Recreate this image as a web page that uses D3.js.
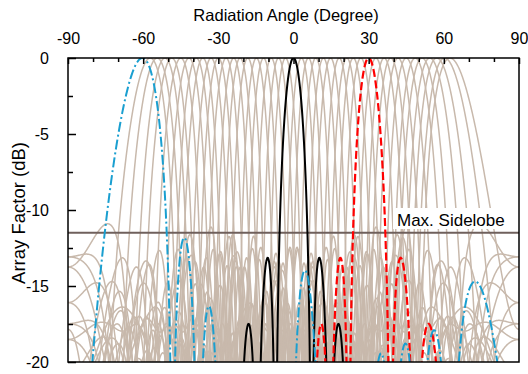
<!DOCTYPE html>
<html><head><meta charset="utf-8">
<script src="https://cdn.jsdelivr.net/npm/d3@7"></script>
<style>body{margin:0;background:#fff}svg{display:block}text{font-family:"Liberation Sans",Arial,sans-serif;fill:#000}</style>
</head><body><div id="c"></div>
<script>
// ---- data ----
const steerAngles = [-60,-57,-54,-51,-48,-45,-42,-39,-36,-33,-30,-27,-24,-21,-18,-15,-12,-9,-6,-3,0,3,6,9,12,15,18,21,24,27,30,33,36,39,42,45,48,51,54,57,60,63];
const highlighted = [{angle:0,kind:"black"},{angle:30,kind:"red"},{angle:-60,kind:"blue"}];
const elements = [16];          // number of array elements
const spacing = [0.5];          // element spacing in wavelengths
const phaseBits = [3];          // phase shifter resolution
const maxSidelobe = [-11.5];    // dB
const xTicks = [-90,-60,-30,0,30,60,90];
const yTicks = [0,-5,-10,-15,-20];

const W=528,H=374, L=68,R=519,T=58,B=362;
const svg=d3.select("#c").append("svg").attr("width",W).attr("height",H);
const x=d3.scaleLinear().domain([-90,90]).range([L,R]);
const y=d3.scaleLinear().domain([-20,0]).range([B,T]);

const N=elements[0], d=spacing[0], bits=phaseBits[0];
const step=2*Math.PI/Math.pow(2,bits);
const thetas=d3.range(-90,90.0001,0.2);
function pattern(t0){
  const beta=-2*Math.PI*d*Math.sin(t0*Math.PI/180);
  const ph=d3.range(N).map(n=>step*Math.round(n*beta/step));
  const vals=thetas.map(t=>{
    const k=2*Math.PI*d*Math.sin(t*Math.PI/180);
    let re=0,im=0;
    for(let n=0;n<N;n++){const a=n*k+ph[n];re+=Math.cos(a);im+=Math.sin(a);}
    return re*re+im*im;
  });
  const mx=d3.max(vals);
  return thetas.map((t,i)=>[t,Math.max(-40,10*Math.log10(vals[i]/mx+1e-12))]);
}
const line=d3.line().x(p=>x(p[0])).y(p=>y(p[1]));
svg.append("defs").append("clipPath").attr("id","clip").append("rect").attr("x",L).attr("y",T).attr("width",R-L).attr("height",B-T);
const g=svg.append("g").attr("clip-path","url(#clip)");
const hiSet=new Set(highlighted.map(h=>h.angle));
steerAngles.filter(a=>!hiSet.has(a)).forEach(a=>{
  g.append("path").attr("d",line(pattern(a))).attr("fill","none").attr("stroke","#c8b9ac").attr("stroke-width",1.5);
});
g.append("line").attr("x1",L).attr("x2",R).attr("y1",y(maxSidelobe[0])).attr("y2",y(maxSidelobe[0])).attr("stroke","#6f605c").attr("stroke-width",2);
const styles={black:{c:"#000",w:2,da:null},red:{c:"#ff0000",w:2.2,da:"8,3.5"},blue:{c:"#1a9fd0",w:2,da:"10,3,2,3"}};
highlighted.forEach(h=>{
  const s=styles[h.kind];
  g.append("path").attr("d",line(pattern(h.angle))).attr("fill","none").attr("stroke",s.c).attr("stroke-width",s.w).attr("stroke-dasharray",s.da);
});
svg.append("rect").attr("x",393).attr("y",208).attr("width",118).attr("height",21).attr("fill","#fff");
svg.append("text").attr("x",397).attr("y",226).attr("font-size",17).text("Max. Sidelobe");
svg.append("rect").attr("x",L).attr("y",T).attr("width",R-L).attr("height",B-T).attr("fill","none").attr("stroke","#000").attr("stroke-width",1.5);
const fmt=v=>String(v);
svg.append("g").attr("transform",`translate(0,${T})`)
  .call(d3.axisTop(x).tickValues([-80,-70,-50,-40,-20,-10,10,20,40,50,70,80]).tickSize(-4).tickFormat(""))
  .call(s=>s.select(".domain").remove());
svg.append("g").attr("transform",`translate(0,${T})`)
  .call(d3.axisTop(x).tickValues(xTicks).tickSize(-6).tickPadding(14).tickFormat(fmt))
  .call(s=>s.select(".domain").remove())
  .selectAll("text").attr("font-size",16).attr("font-family","Liberation Sans, Arial, sans-serif");
svg.append("g").attr("transform",`translate(${L},0)`)
  .call(d3.axisLeft(y).tickValues([-2.5,-7.5,-12.5,-17.5]).tickSize(-5).tickFormat(""))
  .call(s=>s.select(".domain").remove());
svg.append("g").attr("transform",`translate(${L},0)`)
  .call(d3.axisLeft(y).tickValues(yTicks).tickSize(-8).tickPadding(19).tickFormat(fmt))
  .call(s=>s.select(".domain").remove())
  .selectAll("text").attr("font-size",16).attr("font-family","Liberation Sans, Arial, sans-serif");
svg.selectAll(".tick line").attr("stroke","#000").attr("stroke-width",1.5);
svg.append("text").attr("x",286).attr("y",21).attr("text-anchor","middle").attr("font-size",16.5).text("Radiation Angle (Degree)");
svg.append("text").attr("transform",`translate(25,213) rotate(-90)`).attr("text-anchor","middle").attr("font-size",18.5).text("Array Factor (dB)");
</script></body></html>
